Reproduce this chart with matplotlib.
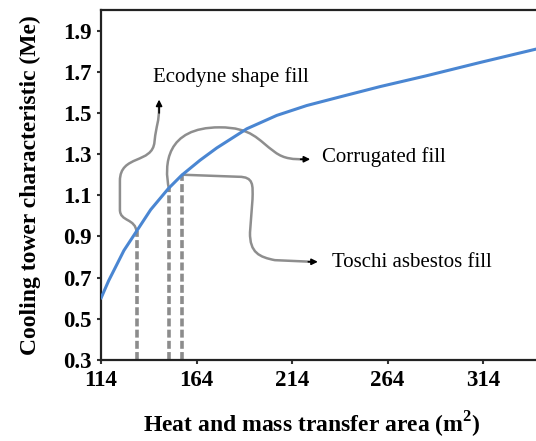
import numpy as np
import matplotlib.pyplot as plt
from matplotlib.path import Path
from matplotlib.patches import PathPatch

plt.rcParams['font.family'] = ['Liberation Serif', 'DejaVu Serif']
plt.rcParams['mathtext.fontset'] = 'custom'
plt.rcParams['mathtext.rm'] = 'Liberation Serif'
plt.rcParams['mathtext.bf'] = 'Liberation Serif:bold'

# curve
area = [114, 118, 122.2, 126, 131.8, 140, 149.2, 156.2, 165.8, 174.6, 190.3,
        206, 221.7, 239.1, 260.1, 284.1, 312.4, 341.7]
me = [0.60, 0.685, 0.762, 0.832, 0.914, 1.03, 1.132, 1.197, 1.27, 1.33,
      1.423, 1.488, 1.536, 1.578, 1.628, 1.68, 1.745, 1.81]

# fill types: where the drop line sits, label and label position
fills = ['Ecodyne shape fill', 'Corrugated fill', 'Toschi asbestos fill']
fill_area = [132.6, 149.6, 156.2]
label_xy = [(141.2, 1.672), (229.7, 1.284), (234.9, 0.775)]

# connector paths (bezier, data units)
M, L, C = Path.MOVETO, Path.LINETO, Path.CURVE4
conn = [
    ([(132.6, 0.92), (132.2, 0.99), (123.9, 0.97), (123.9, 1.03),
      (123.9, 1.17),
      (123.9, 1.30), (141.0, 1.25), (142.0, 1.36),
      (143.0, 1.45), (144.4, 1.45), (144.4, 1.53)],
     [M, C, C, C, L, C, C, C, C, C, C]),
    ([(149.6, 1.13), (146.8, 1.25), (148.0, 1.43), (176.0, 1.43),
      (193.0, 1.43), (196.0, 1.37), (205.0, 1.31),
      (210.0, 1.275), (215.0, 1.275), (220.5, 1.275)],
     [M, C, C, C, C, C, C, C, C, C]),
    ([(156.2, 1.20), (186.0, 1.19),
      (194.0, 1.19), (193.5, 1.15), (193.3, 1.08),
      (192.0, 0.92),
      (191.8, 0.82), (197.0, 0.80), (205.0, 0.785),
      (224.5, 0.777)],
     [M, L, C, C, C, L, C, C, C, L]),
]
tips = [((144.4, 1.50), (144.4, 1.565)),
        ((218.5, 1.275), (223.5, 1.275)),
        ((222.5, 0.777), (227.5, 0.777))]

fig = plt.figure(figsize=(5.36, 4.41), dpi=100)
ax = fig.add_axes([101/536, 1 - 360/441, 1 - 101/536, 350/441])

ax.plot(area, me, color='#4a86d2', lw=2.2, zorder=3, solid_capstyle='round',
        solid_joinstyle='round')

tops = np.interp(fill_area, area, me)
for xa, yt in zip(fill_area, tops):
    ax.plot([xa, xa], [0.3, yt], color='#8c8c8c', lw=2.6,
            dashes=(2.2, 0.9), zorder=2)

for verts, codes in conn:
    ax.add_patch(PathPatch(Path(verts, codes), facecolor='none',
                           edgecolor='#8e8e8e', lw=1.8, zorder=2))
for start, end in tips:
    ax.annotate('', xy=end, xytext=start,
                arrowprops=dict(arrowstyle='-|>', color='black', lw=1.2,
                                mutation_scale=9, shrinkA=0, shrinkB=0))

for name, (lx, ly) in zip(fills, label_xy):
    ax.text(lx, ly, name, fontsize=15, va='center', ha='left', color='black')

ax.set_xlim(114, 341.7)
ax.set_ylim(0.3, 2.0)
ax.set_xticks([114, 164, 214, 264, 314])
ax.set_yticks([0.3, 0.5, 0.7, 0.9, 1.1, 1.3, 1.5, 1.7, 1.9])
ax.set_yticklabels(['0.3', '0.5', '0.7', '0.9', '1.1', '1.3', '1.5', '1.7', '1.9'])

for s in ['left', 'bottom', 'top']:
    ax.spines[s].set_linewidth(1.6)
    ax.spines[s].set_color('#222222')
ax.spines['right'].set_visible(False)
ax.tick_params(direction='out', length=3, width=1.5, color='#333333',
               labelsize=16.5, pad=4)
for lab in ax.get_xticklabels() + ax.get_yticklabels():
    lab.set_fontweight('bold')

ax.set_xlabel('Heat and mass transfer area (m$^\\mathbf{2}$)', fontsize=17,
              fontweight='bold', va='center')
ax.set_ylabel('Cooling tower characteristic (Me)', fontsize=17,
              fontweight='bold', va='center')
ax.xaxis.set_label_coords(0.484, -0.186)
ax.yaxis.set_label_coords(-0.163, 0.5)

fig.savefig('out.png', dpi=100)
